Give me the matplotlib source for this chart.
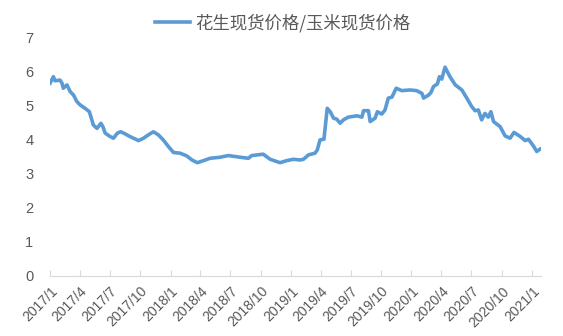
import matplotlib
matplotlib.use("Agg")
import matplotlib.pyplot as plt
import pandas as pd

plt.rcParams['font.family'] = ['Noto Sans CJK SC', 'DejaVu Sans']

# 花生现货价格/玉米现货价格
dates = [
    "2017-01-01", "2017-01-11", "2017-01-16", "2017-01-31", "2017-02-06", "2017-02-10",
    "2017-02-21", "2017-03-03", "2017-03-13", "2017-03-23", "2017-04-02", "2017-04-17",
    "2017-04-30", "2017-05-12", "2017-05-23", "2017-06-04", "2017-06-10", "2017-06-17",
    "2017-07-02", "2017-07-12", "2017-07-24", "2017-08-03", "2017-08-16", "2017-08-31",
    "2017-09-26", "2017-10-11", "2017-10-26", "2017-11-10", "2017-11-25", "2017-12-10",
    "2017-12-26", "2018-01-10", "2018-01-30", "2018-02-19", "2018-03-07", "2018-03-23",
    "2018-04-11", "2018-05-01", "2018-05-31", "2018-06-25", "2018-07-31", "2018-08-25",
    "2018-09-04", "2018-10-09", "2018-10-30", "2018-11-29", "2018-12-19", "2019-01-08",
    "2019-01-29", "2019-02-08", "2019-02-23", "2019-03-15", "2019-03-22", "2019-03-30",
    "2019-04-11", "2019-04-21", "2019-04-30", "2019-05-10", "2019-05-20", "2019-05-30",
    "2019-06-09", "2019-06-24", "2019-07-20", "2019-08-04", "2019-08-09", "2019-08-24",
    "2019-08-29", "2019-09-13", "2019-09-20", "2019-10-03", "2019-10-13", "2019-10-23",
    "2019-11-03", "2019-11-16", "2019-12-03", "2019-12-28", "2020-01-17", "2020-02-02",
    "2020-02-07", "2020-02-22", "2020-02-29", "2020-03-08", "2020-03-20", "2020-03-26",
    "2020-04-02", "2020-04-12", "2020-04-27", "2020-05-13", "2020-06-02", "2020-06-17",
    "2020-07-02", "2020-07-12", "2020-07-22", "2020-08-01", "2020-08-11", "2020-08-21",
    "2020-08-29", "2020-09-06", "2020-09-26", "2020-10-11", "2020-10-26", "2020-11-07",
    "2020-11-26", "2020-12-11", "2020-12-21", "2021-01-05", "2021-01-15", "2021-01-25",
]
ratio = [
    5.67, 5.86, 5.74, 5.76, 5.67, 5.52,
    5.62, 5.42, 5.32, 5.13, 5.03, 4.93,
    4.83, 4.44, 4.34, 4.49, 4.39, 4.20,
    4.10, 4.05, 4.20, 4.24, 4.18, 4.10,
    3.98, 4.05, 4.15, 4.24, 4.15, 4.00,
    3.80, 3.63, 3.61, 3.53, 3.41, 3.33,
    3.39, 3.46, 3.49, 3.54, 3.49, 3.46,
    3.54, 3.58, 3.43, 3.33, 3.39, 3.43,
    3.41, 3.43, 3.56, 3.61, 3.71, 4.00,
    4.02, 4.93, 4.83, 4.64, 4.61, 4.49,
    4.59, 4.67, 4.71, 4.67, 4.86, 4.86,
    4.54, 4.64, 4.83, 4.76, 4.88, 5.23,
    5.26, 5.52, 5.45, 5.47, 5.45, 5.37,
    5.23, 5.32, 5.39, 5.57, 5.65, 5.86,
    5.79, 6.14, 5.86, 5.62, 5.47, 5.23,
    4.98, 4.86, 4.88, 4.59, 4.78, 4.67,
    4.83, 4.54, 4.39, 4.12, 4.05, 4.22,
    4.10, 3.98, 4.02, 3.82, 3.66, 3.73,
]
tick_dates = pd.date_range("2017-01-01", "2021-01-01", freq="QS")
tick_labels = [f"{d.year}/{d.month}" for d in tick_dates]

x = pd.to_datetime(dates)

fig = plt.figure(figsize=(5.63, 3.36), dpi=100)
ax = fig.add_axes([0.089, 0.179, 0.872, 0.708])

ax.plot(x, ratio, color="#5B9BD5", linewidth=2.6, label="花生现货价格/玉米现货价格")

ax.set_xlim(pd.Timestamp("2017-01-01"), pd.Timestamp("2021-01-28"))
ax.set_ylim(0, 7)
ax.set_yticks(range(0, 8))
ax.set_xticks(tick_dates)
ax.set_xticklabels(tick_labels, rotation=45, ha="right", rotation_mode="anchor")

for lab in ax.get_xticklabels() + ax.get_yticklabels():
    lab.set_fontfamily("Liberation Sans")

for s in ["top", "right", "left"]:
    ax.spines[s].set_visible(False)
ax.spines["bottom"].set_color("#D9D9D9")
ax.tick_params(axis="x", direction="in", length=4, color="#D9D9D9",
               labelsize=10, labelcolor="#595959", pad=6)
ax.tick_params(axis="y", length=0, labelsize=10.5, labelcolor="#595959", pad=12)

leg = ax.legend(loc="center", bbox_to_anchor=(0.474, 1.063), frameon=False,
                fontsize=12.5, labelcolor="#595959", handlelength=2.0, handletextpad=0.35)

fig.savefig("out.png", dpi=100)
